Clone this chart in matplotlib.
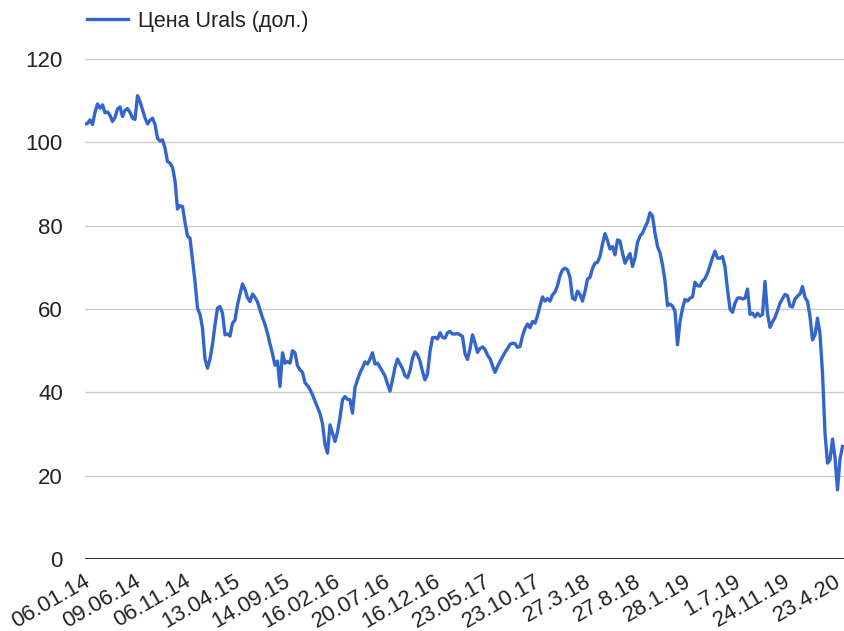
import numpy as np
import matplotlib.pyplot as plt
import matplotlib.transforms as mtransforms

# подписи оси X (каждая 20-я точка ряда)
tick_labels = ['06.01.14', '09.06.14', '06.11.14', '13.04.15', '14.09.15', '16.02.16',
               '20.07.16', '16.12.16', '23.05.17', '23.10.17', '27.3.18', '27.8.18',
               '28.1.19', '1.7.19', '24.11.19', '23.4.20']

# цена Urals, долл. за баррель
urals_price = [
    104.4, 104.5, 105.4, 104.3, 107.2, 109.2, 108.2, 109.0, 107.1, 107.3,
    106.5, 105.0, 106.0, 108.0, 108.5, 106.2, 107.7, 108.1, 107.2, 105.8,
    105.5, 111.2, 109.8, 107.8, 105.9, 104.4, 105.3, 105.8, 104.3, 101.0,
    100.3, 100.6, 98.6, 95.4, 95.0, 94.0, 90.8, 84.0, 84.8, 84.6,
    80.8, 77.5, 77.0, 71.8, 66.6, 60.2, 58.7, 55.4, 48.0, 45.8,
    48.0, 51.5, 56.2, 60.2, 60.6, 59.0, 53.8, 54.0, 53.5, 56.6,
    57.3, 61.0, 63.6, 66.0, 64.7, 62.7, 61.8, 63.6, 62.8, 61.7,
    59.8, 57.9, 56.3, 54.2, 51.6, 49.3, 46.5, 47.5, 41.4, 49.5,
    47.0, 47.4, 47.0, 50.0, 49.5, 46.4, 45.4, 44.8, 42.3, 41.6,
    40.7, 39.4, 37.9, 36.4, 34.9, 32.5, 27.5, 25.4, 32.2, 30.2,
    28.2, 30.5, 34.0, 38.2, 39.0, 38.3, 38.2, 35.0, 41.2, 43.0,
    44.7, 45.9, 47.3, 46.8, 48.0, 49.5, 46.8, 47.0, 46.0, 45.0,
    43.9, 42.0, 40.3, 43.0, 46.0, 48.0, 46.8, 45.7, 44.0, 43.5,
    45.2, 48.2, 49.7, 49.0, 47.5, 45.0, 43.0, 44.4, 49.8, 53.1,
    53.2, 52.8, 54.3, 53.2, 53.0, 54.3, 54.6, 54.0, 54.0, 54.1,
    53.8, 53.4, 49.3, 47.9, 50.4, 53.8, 51.9, 49.6, 50.5, 50.9,
    50.3, 48.9, 48.1, 46.4, 44.8, 46.2, 47.4, 48.5, 49.6, 50.5,
    51.5, 51.8, 51.7, 50.8, 51.0, 53.5, 55.3, 56.4, 55.5, 57.0,
    56.6, 58.4, 60.8, 62.9, 61.9, 62.5, 61.9, 63.4, 64.1, 65.6,
    68.0, 69.4, 69.8, 69.4, 67.6, 62.6, 62.2, 64.3, 63.5, 61.9,
    64.2, 67.2, 67.6, 69.7, 71.0, 71.2, 72.6, 75.6, 78.1, 76.4,
    74.4, 75.0, 73.0, 76.6, 76.3, 73.4, 71.0, 72.2, 73.3, 70.2,
    72.3, 76.0, 77.5, 78.2, 79.6, 80.9, 83.1, 82.3, 78.2, 75.0,
    73.5, 70.6, 66.7, 60.8, 61.2, 60.7, 59.5, 51.4, 57.0, 60.1,
    62.3, 61.9, 62.6, 62.9, 66.4, 65.6, 65.5, 66.7, 67.3, 68.6,
    70.4, 72.3, 73.9, 72.2, 72.2, 72.6, 70.1, 64.7, 60.0, 59.2,
    61.4, 62.6, 62.7, 62.4, 62.6, 64.8, 58.7, 59.0, 58.1, 59.0,
    58.3, 58.7, 66.6, 58.9, 55.6, 56.9, 58.0, 59.6, 61.4, 62.5,
    63.5, 63.2, 60.7, 60.5, 62.4, 63.1, 63.6, 65.4, 62.8, 61.8,
    58.2, 52.6, 53.8, 57.8, 54.0, 44.6, 30.2, 23.0, 23.8, 28.8,
    24.4, 16.6, 24.0, 27.0,
]

plt.rcParams['font.family'] = ['Liberation Sans', 'DejaVu Sans']

fig = plt.figure(figsize=(8.44, 6.31), dpi=100)
ax = fig.add_axes([85 / 844, 72 / 631, 759 / 844, 500 / 631])

x = np.arange(len(urals_price))
ax.plot(x, urals_price, color='#3366cc', lw=2.4, label='Цена Urals (дол.)',
        solid_joinstyle='round')

ax.set_xlim(0, 303.6)
ax.set_ylim(0, 120)
ax.set_yticks(range(0, 121, 20))
ax.set_xticks(np.arange(len(tick_labels)) * 20)
ax.set_xticklabels(tick_labels, rotation=30, ha='right', va='center',
                   rotation_mode='anchor')
ax.tick_params(length=0, labelsize=16, colors='#222222')
ax.tick_params(axis='y', pad=16)
ax.tick_params(axis='x', pad=15)

# небольшой сдвиг подписей вправо, как в оригинале
shift = mtransforms.ScaledTranslation(4 / 100, 0, fig.dpi_scale_trans)
for lbl in ax.get_xticklabels():
    lbl.set_transform(lbl.get_transform() + shift)

ax.yaxis.grid(True, color='#cccccc', lw=1)
ax.set_axisbelow(True)
ax.axhline(0, color='#333333', lw=1.5)
for s in ax.spines.values():
    s.set_visible(False)

fig.legend(loc='center left', bbox_to_anchor=(87 / 844, 1 - 21 / 631),
           frameon=False, fontsize=15.5, handlelength=1.9, handletextpad=0.45,
           borderpad=0, borderaxespad=0, labelcolor='#222222')

fig.savefig('out.png', dpi=100)
